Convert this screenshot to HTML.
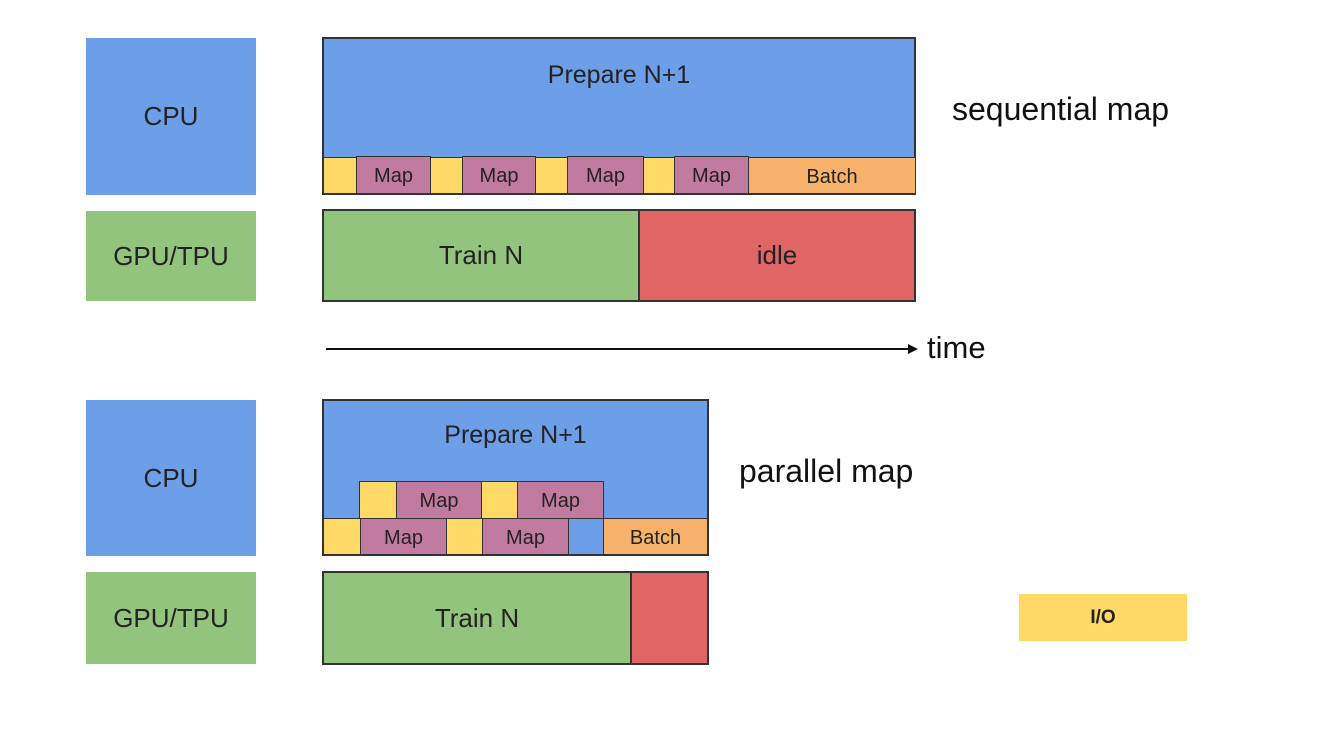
<!DOCTYPE html>
<html><head><style>
body{margin:0;width:1324px;height:734px;background:#fff;position:relative;overflow:hidden;font-family:"Liberation Sans",sans-serif;color:#222}
.b{position:absolute;box-sizing:border-box;display:flex;align-items:center;justify-content:center}
.o{border:2px solid #333}
.s{border:1.5px solid #333;font-size:20px;padding-top:3px}
.blue{background:#6d9ee8}.green{background:#93c47d}.red{background:#e06666}.yel{background:#ffd966}.pink{background:#c27ba0}.org{background:#f6b26b}
.t{position:absolute;font-size:32px;color:#111;white-space:nowrap}
</style></head><body>
<div class="b blue" style="left:86px;top:38px;width:170px;height:157px;font-size:26px">CPU</div>
<div class="b green" style="left:86px;top:211px;width:170px;height:90px;font-size:26px">GPU/TPU</div>
<div class="b blue" style="left:86px;top:400px;width:170px;height:156px;font-size:26px">CPU</div>
<div class="b green" style="left:86px;top:572px;width:170px;height:92px;font-size:26px">GPU/TPU</div>

<div class="b blue o" style="left:322px;top:37px;width:594px;height:158px;align-items:flex-start;padding-top:22px;font-size:25px">Prepare N+1</div>
<div class="b yel s" style="left:323px;top:157px;width:34px;height:37px"></div>
<div class="b pink s" style="left:356px;top:156px;width:75px;height:38px">Map</div>
<div class="b yel s" style="left:430px;top:157px;width:33px;height:37px"></div>
<div class="b pink s" style="left:462px;top:156px;width:74px;height:38px">Map</div>
<div class="b yel s" style="left:535px;top:157px;width:33px;height:37px"></div>
<div class="b pink s" style="left:567px;top:156px;width:77px;height:38px">Map</div>
<div class="b yel s" style="left:643px;top:157px;width:32px;height:37px"></div>
<div class="b pink s" style="left:674px;top:156px;width:75px;height:38px">Map</div>
<div class="b org s" style="left:748px;top:157px;width:168px;height:37px">Batch</div>

<div class="b green o" style="left:322px;top:209px;width:318px;height:93px;font-size:26px">Train N</div>
<div class="b red o" style="left:638px;top:209px;width:278px;height:93px;font-size:26px">idle</div>

<svg style="position:absolute;left:0;top:0" width="1324" height="734"><line x1="326" y1="349" x2="910" y2="349" stroke="#111" stroke-width="2"/><polygon points="918,349 908,344 908,354" fill="#111"/></svg>
<div class="t" style="left:927px;top:330px;font-size:31px">time</div>
<div class="t" style="left:952px;top:91px">sequential map</div>
<div class="t" style="left:739px;top:453px">parallel map</div>

<div class="b blue o" style="left:322px;top:399px;width:387px;height:157px;align-items:flex-start;padding-top:20px;font-size:25px">Prepare N+1</div>
<div class="b yel s" style="left:359px;top:481px;width:38px;height:38px"></div>
<div class="b pink s" style="left:396px;top:481px;width:86px;height:38px">Map</div>
<div class="b yel s" style="left:481px;top:481px;width:37px;height:38px"></div>
<div class="b pink s" style="left:517px;top:481px;width:87px;height:38px">Map</div>
<div class="b yel s" style="left:323px;top:518px;width:38px;height:37px"></div>
<div class="b pink s" style="left:360px;top:518px;width:87px;height:37px">Map</div>
<div class="b yel s" style="left:446px;top:518px;width:37px;height:37px"></div>
<div class="b pink s" style="left:482px;top:518px;width:87px;height:37px">Map</div>
<div class="b org s" style="left:603px;top:518px;width:105px;height:37px">Batch</div>

<div class="b green o" style="left:322px;top:571px;width:310px;height:94px;font-size:26px">Train N</div>
<div class="b red o" style="left:630px;top:571px;width:79px;height:94px"></div>

<div class="b yel" style="left:1019px;top:594px;width:168px;height:47px;font-size:19px;font-weight:bold">I/O</div>
</body></html>
